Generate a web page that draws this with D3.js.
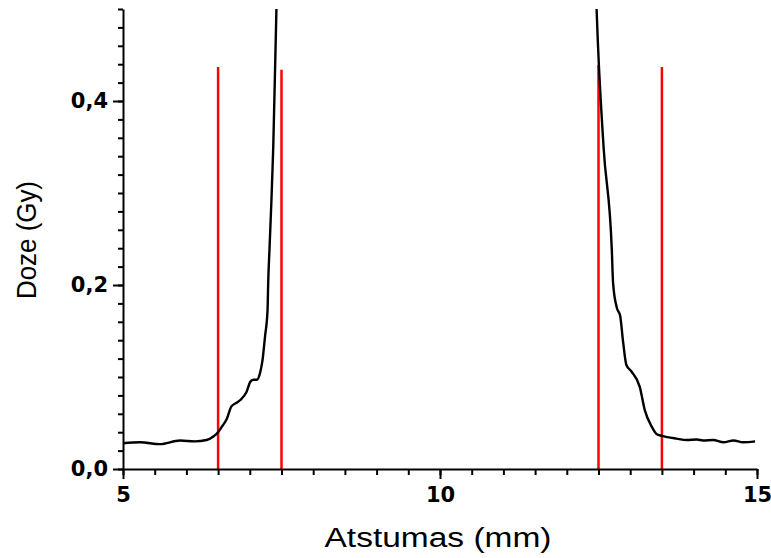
<!DOCTYPE html>
<html>
<head>
<meta charset="utf-8">
<script src="https://cdn.jsdelivr.net/npm/d3@7"></script>
<style>
  body { margin: 0; background: #fff; overflow: hidden; }
  svg { display: block; }
</style>
</head>
<body>
<svg id="chart"></svg>
<script>
// measured dose profile (mm, Gy) - the peak between ~7.5 and ~12.4 mm is off the chart
const distance = [5.0, 5.27, 5.58, 5.9, 6.13, 6.32, 6.42, 6.5, 6.57, 6.64, 6.71, 6.79, 6.85, 6.95,
  7.01, 7.06, 7.11, 7.16, 7.2, 7.24, 7.28, 7.29, 7.31, 7.34, 7.37, 7.42, 7.47,
  12.42, 12.47, 12.58, 12.71, 12.73, 12.79, 12.84, 12.89, 12.94, 13.02, 13.15, 13.23,
  13.34, 13.42, 13.5, 13.73, 13.89, 14.05, 14.15, 14.31, 14.47, 14.63, 14.78, 14.97];
const dose = [0.028, 0.029, 0.027, 0.031, 0.030, 0.0315, 0.035, 0.040, 0.047, 0.055, 0.068, 0.072, 0.075, 0.084,
  0.095, 0.097, 0.097, 0.104, 0.118, 0.144, 0.173, 0.202, 0.238, 0.29, 0.35, 0.5, 0.62,
  0.62, 0.5, 0.35, 0.238, 0.202, 0.175, 0.167, 0.137, 0.113, 0.106, 0.0895, 0.064,
  0.046, 0.0377, 0.036, 0.033, 0.0315, 0.032, 0.031, 0.0315, 0.029, 0.031, 0.029, 0.030];

// red marker lines
const markerX = [6.5, 7.5, 12.5, 13.5];
const markerTop = [0.437, 0.434, 0.439, 0.437];

const xTicks = [5, 10, 15];
const xTickLabels = ["5", "10", "15"];
const yTicks = [0, 0.2, 0.4];
const yTickLabels = ["0,0", "0,2", "0,4"];

const W = 771, H = 558;
const margin = { top: 9, right: 14, bottom: 89, left: 123 };
const width = W - margin.left - margin.right;
const height = H - margin.top - margin.bottom;

const svg = d3.select("#chart").attr("width", W).attr("height", H);
const g = svg.append("g").attr("transform", "translate(" + margin.left + "," + margin.top + ")");

const x = d3.scaleLinear().domain([5, 15]).range([0, width]);
const y = d3.scaleLinear().domain([0, 0.5]).range([height, 0]);

svg.append("defs").append("clipPath").attr("id", "plotclip")
  .append("rect").attr("x", 0).attr("y", 0).attr("width", width).attr("height", height);

// red lines
g.selectAll(".marker")
  .data(markerX)
  .enter()
  .append("line")
  .attr("class", "marker")
  .attr("x1", d => x(d))
  .attr("x2", d => x(d))
  .attr("y1", y(0))
  .attr("y2", (d, i) => y(markerTop[i]))
  .attr("stroke", "#ff0000")
  .attr("stroke-width", 2.5);

// dose curve
const pts = distance.map((d, i) => [d, dose[i]]);
const line = d3.line()
  .x(d => x(d[0]))
  .y(d => y(d[1]))
  .curve(d3.curveMonotoneX);

g.append("path")
  .datum(pts)
  .attr("clip-path", "url(#plotclip)")
  .attr("d", line)
  .attr("fill", "none")
  .attr("stroke", "#000")
  .attr("stroke-width", 2.4)
  .attr("stroke-linejoin", "round");

// minor ticks
g.append("g")
  .attr("transform", "translate(0," + height + ")")
  .call(d3.axisBottom(x).tickValues(d3.range(5, 15.01, 0.5)).tickSize(6).tickSizeOuter(0).tickFormat(""))
  .call(a => a.select(".domain").remove());
g.append("g")
  .call(d3.axisLeft(y).tickValues(d3.range(0, 0.501, 0.02)).tickSize(5).tickSizeOuter(0).tickFormat(""))
  .call(a => a.select(".domain").remove());

// major axes
const xAxis = g.append("g")
  .attr("transform", "translate(0," + height + ")")
  .call(d3.axisBottom(x).tickValues(xTicks).tickSize(10).tickSizeOuter(0).tickPadding(8)
    .tickFormat((d, i) => xTickLabels[i]));
const yAxis = g.append("g")
  .call(d3.axisLeft(y).tickValues(yTicks).tickSize(10).tickSizeOuter(0).tickPadding(5)
    .tickFormat((d, i) => yTickLabels[i]));

g.selectAll(".tick line").attr("stroke", "#000").attr("stroke-width", 2);
g.selectAll(".domain").attr("stroke", "#000").attr("stroke-width", 2);

g.selectAll(".tick text")
  .attr("fill", "#000")
  .style("font-family", "'DejaVu Sans', sans-serif")
  .style("font-weight", "bold")
  .style("font-size", "21px");

// axis titles
svg.append("text")
  .attr("x", margin.left + x(10) - 2)
  .attr("y", 547)
  .attr("text-anchor", "middle")
  .style("font-family", "'Liberation Sans', Arial, sans-serif")
  .style("font-size", "27px")
  .attr("textLength", 227)
  .attr("lengthAdjust", "spacingAndGlyphs")
  .text("Atstumas (mm)");

svg.append("text")
  .attr("transform", "translate(36,240) rotate(-90)")
  .attr("text-anchor", "middle")
  .style("font-family", "'Liberation Sans', Arial, sans-serif")
  .style("font-size", "28px")
  .attr("textLength", 118)
  .attr("lengthAdjust", "spacingAndGlyphs")
  .text("Doze (Gy)");
</script>
</body>
</html>
